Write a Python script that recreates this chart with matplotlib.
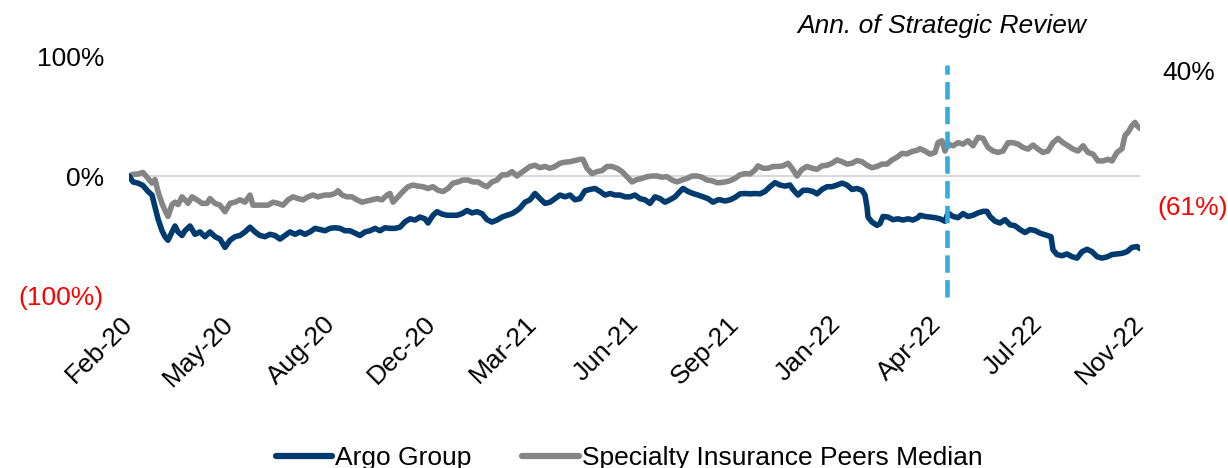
import numpy as np
import pandas as pd
import matplotlib
matplotlib.use("Agg")
import matplotlib.pyplot as plt
import matplotlib.transforms as mtransforms

plt.rcParams['font.family'] = ['Liberation Sans', 'DejaVu Sans']

# ---------------- data ----------------
start_date = "2020-02-06"
end_day = 1011
event_day = 818
event_label = "Ann. of Strategic Review"

x_tick_labels = ['Feb-20', 'May-20', 'Aug-20', 'Dec-20', 'Mar-21', 'Jun-21',
                 'Sep-21', 'Jan-22', 'Apr-22', 'Jul-22', 'Nov-22']
y_ticks = [-100, 0, 100]
y_tick_labels = ['(100%)', '0%', '100%']

argo_days = [0, 4, 9, 14, 19, 23, 26, 29, 33, 36, 39, 43, 46, 49, 53, 56, 61, 66, 71, 76,
             81, 86, 91, 96, 101, 106, 111, 116, 121, 126, 131, 136, 141, 146, 151, 156,
             161, 166, 171, 176, 181, 186, 191, 196, 201, 206, 211, 216, 221, 226, 231,
             236, 241, 246, 251, 256, 261, 266, 271, 276, 281, 286, 291, 296, 299, 304,
             308, 313, 318, 323, 328, 333, 338, 343, 348, 353, 358, 363, 368, 373, 378,
             383, 388, 391, 396, 401, 406, 411, 416, 421, 426, 431, 436, 441, 446, 451,
             456, 461, 466, 471, 476, 481, 486, 491, 496, 501, 506, 511, 516, 521, 526,
             531, 536, 541, 546, 551, 554, 559, 564, 569, 574, 579, 584, 589, 591, 596,
             601, 606, 611, 616, 621, 626, 631, 636, 641, 646, 651, 656, 661, 664, 669,
             674, 679, 684, 688, 693, 698, 703, 708, 713, 718, 723, 728, 733, 736, 738,
             739, 743, 748, 751, 754, 759, 764, 769, 774, 779, 784, 789, 791, 796, 801,
             806, 811, 816, 819, 824, 829, 834, 839, 844, 849, 854, 858, 861, 866, 871,
             876, 881, 886, 891, 896, 901, 906, 911, 916, 922, 924, 928, 933, 938, 943,
             948, 953, 958, 963, 968, 973, 978, 983, 988, 993, 998, 1003, 1008, 1011]
argo_pct = [0, -5, -6, -8, -13, -16, -26, -36, -46, -51, -54, -47, -42, -47, -50, -46, -42,
            -49, -47, -51, -47, -51, -53, -60, -54, -51, -50, -47, -43, -47, -50, -51, -49,
            -50, -53, -50, -47, -49, -47, -49, -47, -44, -45, -46, -44, -43.5, -44, -46,
            -46, -48, -50, -47, -46, -44, -46, -43.5, -44, -44, -43, -38.5, -36, -37,
            -34.5, -36, -39.5, -33, -30, -32, -33, -33, -33, -31.6, -29, -31, -30, -31.6,
            -36.7, -38.7, -37, -34.5, -33, -31.6, -29, -27, -22, -20, -14.7, -19, -23, -22,
            -19, -16, -17.5, -16, -20, -19, -12.4, -11.3, -10.5, -13, -16, -14.7, -16, -16,
            -17.5, -17.5, -16, -19, -20, -23, -17.5, -19, -22, -20, -17.5, -13, -10.5, -13,
            -14.7, -16, -17.5, -19, -22, -20, -20, -21, -20, -18, -15, -14.7, -15, -14.7,
            -15, -13, -9, -5.6, -7.6, -8.5, -7.6, -11.3, -16, -12, -12, -13, -15, -11.3, -9,
            -9, -7.6, -6, -7.6, -11.3, -10.5, -12, -16, -26, -34.5, -38.7, -41.5, -40, -34,
            -34.5, -36.7, -36, -37, -36, -37, -35, -33, -34, -34.5, -35, -36, -38, -31, -34,
            -35, -31.6, -34, -33, -31, -29.7, -29.7, -34, -38, -39.5, -36.7, -41, -41.8, -45,
            -47.5, -45, -45.8, -48, -49.4, -51, -62, -66, -67, -65.5, -67.8, -69, -63.6,
            -61.6, -63.6, -67.8, -69, -68, -66, -65.5, -65, -63.6, -60, -59.3, -61]

peer_days = [0, 4, 9, 14, 18, 23, 26, 29, 33, 36, 39, 43, 46, 49, 53, 56, 59, 63, 68, 73,
             78, 81, 86, 91, 96, 101, 106, 111, 116, 121, 124, 129, 134, 139, 144, 149, 154,
             159, 164, 169, 174, 179, 184, 189, 191, 196, 201, 206, 209, 213, 218, 223, 228,
             233, 238, 243, 248, 253, 258, 261, 264, 269, 274, 279, 284, 289, 294, 299, 304,
             309, 314, 319, 324, 329, 334, 339, 344, 349, 354, 358, 363, 368, 373, 378, 383,
             388, 391, 396, 401, 406, 411, 416, 421, 426, 431, 436, 441, 446, 451, 454, 458,
             463, 468, 473, 478, 483, 488, 493, 498, 503, 508, 513, 518, 523, 528, 533, 538,
             543, 548, 553, 558, 563, 568, 573, 578, 583, 588, 591, 596, 601, 606, 611, 616,
             621, 626, 629, 634, 639, 644, 649, 654, 659, 663, 668, 673, 678, 683, 688, 693,
             698, 703, 708, 713, 718, 723, 728, 733, 738, 743, 748, 753, 758, 763, 768, 773,
             778, 783, 788, 791, 796, 801, 806, 809, 813, 816, 819, 824, 829, 834, 839, 844,
             849, 854, 859, 864, 869, 874, 879, 884, 889, 894, 899, 904, 909, 914, 919, 924,
             929, 934, 939, 944, 949, 954, 959, 964, 969, 974, 979, 983, 988, 993, 996, 999,
             1003, 1006, 1008, 1011]
peer_pct = [0, 1.4, 1.7, 3, -1, -6, -3, -13, -23, -29, -34, -24, -22, -24, -17.5, -20, -23,
            -17.5, -20, -23, -23, -19, -23, -24.5, -30, -23, -22, -20, -22, -16, -24.5, -24.5,
            -24.5, -24.5, -22, -23, -24.5, -20, -17.5, -19, -20, -17.5, -16, -17.5, -17, -16,
            -16, -14.7, -12.4, -16, -17.5, -17.5, -20, -22, -21, -20, -19, -20, -16, -14.7,
            -22, -17.5, -13, -9, -7.6, -8.5, -9, -10.5, -9, -12, -13, -10.5, -6, -5, -3.4,
            -3.4, -5, -5, -7.6, -9, -5, -3.4, 1, 1, 3.7, 0, 2, 5, 8, 9, 7, 8, 6.5, 8, 10.7,
            11.6, 12, 13, 14, 14, 6.5, 2, 3.7, 4.5, 8, 8, 6.5, 3.7, -0.6, -5, -3, -2, -0.6,
            0, 0, -1, -0.6, -3.4, -5, -3.4, -2, 0, 0, -1, -3.4, -4, -5.6, -5.6, -5, -4, -2, 1,
            2, 1.7, 5, 8.5, 6.5, 6.5, 8, 8, 8.5, 10.7, 6.5, 0, 5.6, 8, 6.5, 5.6, 8.5, 9, 10.7,
            13.5, 12, 10, 10.7, 13, 12, 9, 7, 8, 10, 10, 13.5, 15.8, 19, 18.6, 20.6, 21.5, 23,
            21, 18.4, 19.8, 28, 29.6, 21, 26.8, 25.4, 28, 26.8, 29.6, 25.4, 32.5, 31.6, 24, 21,
            19.8, 21, 28, 28, 26.8, 24, 22.6, 26, 22.6, 19.8, 21, 28, 31.6, 28, 25.4, 22.6, 21,
            25.4, 19.8, 18.4, 12.7, 12.7, 14, 12.7, 19.8, 23, 34, 36.7, 42.4, 45, 42.4, 40]

argo_end_label = "(61%)"
peer_end_label = "40%"

# ---------------- figure ----------------
W, H = 1228, 468
fig = plt.figure(figsize=(W / 100, H / 100), dpi=100)
ax = fig.add_axes([129 / W, 1 - 295 / H, (1140 - 129) / W, (295 - 57) / H])

start = pd.Timestamp(start_date)
argo_x = start + pd.to_timedelta(argo_days, unit='D')
peer_x = start + pd.to_timedelta(peer_days, unit='D')
event_x = start + pd.Timedelta(days=event_day)

NAVY = '#003B6F'
GRAY = '#858585'
BLUE = '#33ACE0'
FS = 19

ax.axhline(0, color='#D9D9D9', lw=1.5, zorder=0)
ax.plot(peer_x, peer_pct, color=GRAY, lw=4.0, solid_joinstyle='round',
        solid_capstyle='round', label='Specialty Insurance Peers Median', zorder=2)
ax.plot(argo_x, argo_pct, color=NAVY, lw=4.0, solid_joinstyle='round',
        solid_capstyle='round', label='Argo Group', zorder=3)

vl = ax.axvline(event_x, ymin=-0.01, ymax=0.965, color=BLUE, lw=3.3, clip_on=False, zorder=4)
vl.set_dashes([3.8, 1.6])

ax.annotate(event_label, xy=(event_x, 1), xycoords=('data', 'axes fraction'),
            xytext=(-4, 14), textcoords='offset points', ha='center', va='bottom',
            fontsize=FS, style='italic', color='black')

ax.set_xlim(start, start + pd.Timedelta(days=end_day))
ax.set_ylim(-100, 100)

tick_pos = start + pd.to_timedelta(np.linspace(0, end_day, len(x_tick_labels)), unit='D')
ax.set_xticks(tick_pos)
ax.set_xticklabels(x_tick_labels, fontsize=FS)
shift = mtransforms.ScaledTranslation(4 / 100, 0, fig.dpi_scale_trans)
for lab in ax.get_xticklabels():
    lab.set_rotation(45)
    lab.set_ha('right')
    lab.set_va('center')
    lab.set_rotation_mode('anchor')
    lab.set_transform(lab.get_transform() + shift)

ax.set_yticks(y_ticks)
ax.set_yticklabels(y_tick_labels, fontsize=FS)
for lab, v in zip(ax.get_yticklabels(), y_ticks):
    lab.set_color('red' if v < 0 else 'black')

ax.tick_params(axis='x', length=0, pad=18)
ax.tick_params(axis='y', length=0, pad=18)
for s in ax.spines.values():
    s.set_visible(False)

fig.text(1162 / W, 1 - 73 / H, peer_end_label, fontsize=FS, color='black',
         ha='left', va='center')
fig.text(1157 / W, 1 - 208 / H, argo_end_label, fontsize=FS, color='red',
         ha='left', va='center')

handles, labels = ax.get_legend_handles_labels()
order = [1, 0]
leg = fig.legend([handles[i] for i in order], [labels[i] for i in order],
                 loc='center', bbox_to_anchor=(629 / W, 1 - 458 / H), ncol=2,
                 frameon=False, fontsize=FS, handlelength=2.15, handletextpad=0.12,
                 columnspacing=1.9, borderpad=0.2)
for lh in leg.get_lines():
    lh.set_linewidth(4.5)
    lh.set_solid_capstyle('round')

fig.savefig('out.png', dpi=100)
